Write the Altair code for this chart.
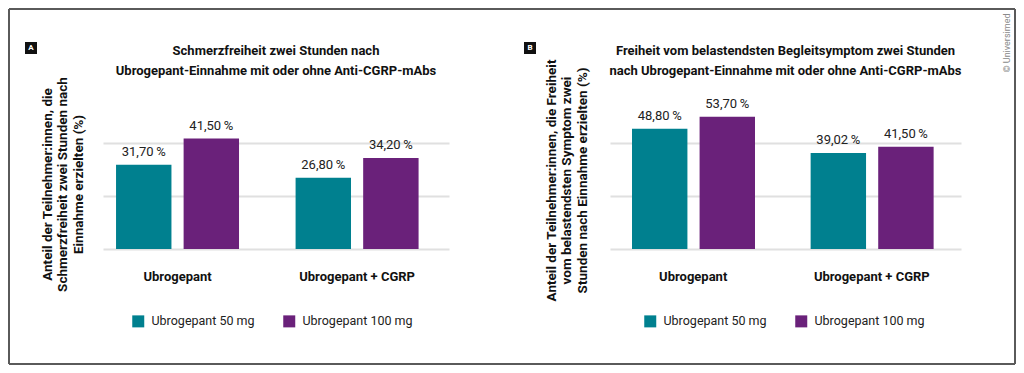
import altair as alt
import pandas as pd
import numpy as np

# ---------------- data ----------------
groups = ["Ubrogepant", "Ubrogepant + CGRP"]
doses = ["Ubrogepant 50 mg", "Ubrogepant 100 mg"]
values_a = [31.70, 41.50, 26.80, 34.20]
values_b = [48.80, 53.70, 39.02, 41.50]
title_a = ["Schmerzfreiheit zwei Stunden nach",
           "Ubrogepant-Einnahme mit oder ohne Anti-CGRP-mAbs"]
title_b = ["Freiheit vom belastendsten Begleitsymptom zwei Stunden",
           "nach Ubrogepant-Einnahme mit oder ohne Anti-CGRP-mAbs"]
ytitle_a = ["Anteil der Teilnehmer:innen, die",
            "Schmerzfreiheit zwei Stunden nach",
            "Einnahme erzielten (%)"]
ytitle_b = ["Anteil der Teilnehmer:innen, die Freiheit",
            "vom belastendsten Symptom zwei",
            "Stunden nach Einnahme erzielten (%)"]
badges = ["A", "B"]
colors = ["#00808f", "#6a217a"]
copyright_text = "© Universimed"

FONT = "Roboto"
FRAME = "#5a5a5a"
INK = "#111111"


def panel(values, title, ytitle, badge, ymax, width, po, align,
          ytx, yty, legend_x, badge_x, frame=None, copy_x=None):
    df = pd.DataFrame({
        "group": [g for g in groups for _ in doses],
        "dose": doses * 2,
        "value": values,
    })
    df["label"] = df["value"].map(lambda v: f"{v:.2f}".replace(".", ",") + "\u2009%")
    base = alt.Chart(df)

    x_enc = alt.X("group:N", sort=groups,
                  scale=alt.Scale(paddingInner=0.315, paddingOuter=po, align=align),
                  axis=alt.Axis(title=None, labelFont=FONT, labelFontWeight="bold",
                                labelFontSize=13, labelColor=INK, labelPadding=21,
                                ticks=False, domain=False, labelAngle=0))
    xo_enc = alt.XOffset("dose:N", sort=doses,
                         scale=alt.Scale(paddingInner=0.18, paddingOuter=0))
    y_enc = alt.Y("value:Q",
                  scale=alt.Scale(domain=[0, ymax], nice=False, zero=True),
                  axis=alt.Axis(values=[float(v) for v in np.linspace(0, ymax, 6)],
                                labels=False, ticks=False, domain=False, grid=True,
                                gridColor="#e0e0e0", gridWidth=2,
                                title=ytitle, titleFont=FONT, titleFontSize=13.5,
                                titleFontWeight="bold", titleColor=INK,
                                titleAngle=270, titleX=ytx, titleY=yty,
                                titleAlign="center", titleBaseline="middle",
                                titleLineHeight=15.5))
    bars = base.mark_bar().encode(
        x=x_enc, xOffset=xo_enc, y=y_enc,
        color=alt.Color("dose:N", sort=doses,
                        scale=alt.Scale(domain=doses, range=colors),
                        legend=alt.Legend(title=None, orient="none",
                                          legendX=legend_x, legendY=199,
                                          direction="horizontal",
                                          symbolType="square", symbolSize=144,
                                          symbolStrokeWidth=0,
                                          labelFont=FONT, labelFontSize=12.5,
                                          labelColor="#222222", labelOffset=7,
                                          columnPadding=28)),
    )
    labels = base.mark_text(baseline="alphabetic", dy=-9, fontSize=13,
                            font=FONT, color="#222222").encode(
        x=alt.X("group:N", sort=groups), xOffset=alt.XOffset("dose:N", sort=doses),
        y="value:Q", text="label:N")

    one = alt.Chart(pd.DataFrame({"k": [0]}))
    ttl = one.mark_text(font=FONT, fontSize=13, fontWeight="bold", color=INK,
                        align="center", baseline="middle", lineHeight=20).encode(
        x=alt.value(width / 2), y=alt.value(-65), text=alt.value(title))
    badge_box = one.mark_rect(color="#111111").encode(
        x=alt.value(badge_x), x2=alt.value(badge_x + 12),
        y=alt.value(-74), y2=alt.value(-62))
    badge_txt = one.mark_text(color="white", fontSize=8, fontWeight="bold",
                              font=FONT, align="center", baseline="middle").encode(
        x=alt.value(badge_x + 6), y=alt.value(-68), text=alt.value(badge))
    layers = [bars, labels, ttl, badge_box, badge_txt]

    if frame is not None:
        l, r, t, b = frame
        rule = dict(color=FRAME, strokeWidth=2)
        layers += [
            one.mark_rule(**rule).encode(x=alt.value(l), x2=alt.value(r), y=alt.value(t)),
            one.mark_rule(**rule).encode(x=alt.value(l), x2=alt.value(r), y=alt.value(b)),
            one.mark_rule(**rule).encode(x=alt.value(l), y=alt.value(t), y2=alt.value(b)),
            one.mark_rule(**rule).encode(x=alt.value(r), y=alt.value(t), y2=alt.value(b)),
        ]
    if copy_x is not None:
        layers.append(one.mark_text(angle=270, fontSize=9, font=FONT,
                                    color="#8a8a8a", align="center",
                                    baseline="middle").encode(
            x=alt.value(copy_x), y=alt.value(-73),
            text=alt.value(copyright_text)))
    return alt.layer(*layers).properties(width=width, height=133)


pa = panel(values_a, title_a, ytitle_a, badges[0], 50, 346,
           0.121, 0.3, -56, 68, 29, -78, frame=(-94, 912, -107, 248))
pb = panel(values_b, title_b, ytitle_b, badges[1], 54, 351,
           0.14, 0.44, -59, 64, 34, -86, copy_x=397)

chart = (alt.hconcat(pa, pb, spacing=161, bounds="flush")
         .resolve_legend(color="independent")
         .properties(padding=0, background="white")
         .configure_view(stroke=None))

chart.save("out.html", embed_options={"renderer": "svg", "actions": False})
